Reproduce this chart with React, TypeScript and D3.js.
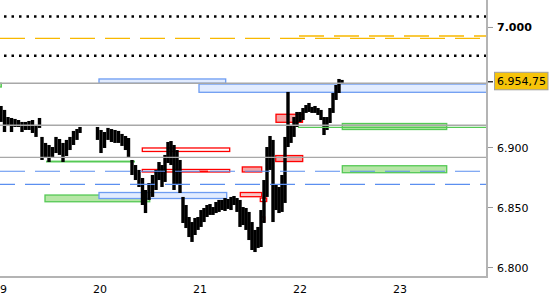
import React from "react";
import * as d3 from "d3";

const W = 550;
const H = 300;
const PLOT_R = 486;
const PLOT_B = 277;

// OHLC bars: time (days), high, low
const barTimes = [
  19.01, 19.045, 19.08, 19.115, 19.15, 19.185, 19.22, 19.255, 19.29, 19.325, 19.36, 19.395,
  19.42, 19.455, 19.49, 19.525, 19.56, 19.595, 19.63, 19.665, 19.7, 19.735, 19.77, 19.8,
  19.975, 20.01, 20.045, 20.08, 20.115, 20.15, 20.185, 20.22, 20.255, 20.285, 20.32, 20.355,
  20.39, 20.425, 20.455, 20.49, 20.525, 20.56, 20.59, 20.62, 20.65, 20.68, 20.71, 20.74,
  20.77, 20.8, 20.83, 20.86, 20.89, 20.92, 20.95, 20.98, 21.01, 21.04, 21.07, 21.1,
  21.13, 21.16, 21.19, 21.22, 21.25, 21.28, 21.31, 21.34, 21.37, 21.4, 21.43, 21.46,
  21.49, 21.52, 21.55, 21.58, 21.61, 21.64, 21.67, 21.7, 21.73, 21.76, 21.79, 21.82,
  21.85, 21.88, 21.91, 21.94, 21.97, 22.0, 22.03, 22.06, 22.09, 22.12, 22.15, 22.18,
  22.21, 22.24, 22.27, 22.3, 22.33, 22.36, 22.39, 22.42,
];
const barHighs = [
  6.9346, 6.9313, 6.9254, 6.9246, 6.9238, 6.9229, 6.9213, 6.9213, 6.9221, 6.9229, 6.9188, 6.9246,
  6.9088, 6.9038, 6.9021, 6.9004, 6.9088, 6.9071, 6.9038, 6.9063, 6.9088, 6.9138, 6.9154, 6.9171,
  6.9171, 6.9146, 6.9129, 6.9163, 6.9154, 6.9146, 6.9138, 6.9113, 6.9096, 6.9079, 6.8896, 6.8854,
  6.8813, 6.8746, 6.8646, 6.8704, 6.8771, 6.8813, 6.8879, 6.8854, 6.8938, 6.9046, 6.9054, 6.9021,
  6.8979, 6.8896, 6.8588, 6.8521, 6.8421, 6.8379, 6.8413, 6.8421, 6.8479, 6.8496, 6.8521, 6.8529,
  6.8504, 6.8546, 6.8563, 6.8563, 6.8579, 6.8571, 6.8588, 6.8596, 6.8579, 6.8563, 6.8504, 6.8496,
  6.8463, 6.8379, 6.8313, 6.8338, 6.8479, 6.8729, 6.9004, 6.9096, 6.9063, 6.8688, 6.8671, 6.8771,
  6.9088, 6.9463, 6.9188, 6.9254, 6.9296, 6.9296, 6.9329, 6.9354, 6.9371, 6.9338, 6.9346, 6.9329,
  6.9313, 6.9254, 6.9254, 6.9329, 6.9454, 6.9521, 6.9571, 6.9563,
];
const barLows = [
  6.9213, 6.9129, 6.9179, 6.9129, 6.9171, 6.9171, 6.9129, 6.9146, 6.9146, 6.9121, 6.9088, 6.9163,
  6.8896, 6.8913, 6.8879, 6.8921, 6.8954, 6.8938, 6.8879, 6.8929, 6.8979, 6.9021, 6.9063, 6.9121,
  6.9063, 6.8954, 6.8996, 6.9063, 6.9046, 6.9038, 6.9038, 6.9013, 6.8979, 6.8913, 6.8771, 6.8729,
  6.8671, 6.8521, 6.8454, 6.8563, 6.8588, 6.8646, 6.8729, 6.8671, 6.8713, 6.8871, 6.8854, 6.8646,
  6.8688, 6.8621, 6.8371, 6.8329, 6.8254, 6.8213, 6.8271, 6.8313, 6.8338, 6.8379, 6.8421, 6.8438,
  6.8438, 6.8454, 6.8463, 6.8479, 6.8471, 6.8488, 6.8479, 6.8521, 6.8463, 6.8338, 6.8354, 6.8313,
  6.8229, 6.8146, 6.8129, 6.8163, 6.8171, 6.8371, 6.8588, 6.8813, 6.8379, 6.8479, 6.8454, 6.8463,
  6.8538, 6.9004, 6.9038, 6.9088, 6.9171, 6.9213, 6.9229, 6.9288, 6.9296, 6.9288, 6.9288, 6.9271,
  6.9229, 6.9104, 6.9146, 6.9204, 6.9288, 6.9396, 6.9454, 6.9538,
];

const lastPrice = 6.95475;
const lastPriceLabel = "6.954,75";

// Zones (supply/demand boxes)
const zoneKinds = [
  "blue", "blue", "green", "blue", "green", "greenBar", "green", "green",
  "redOpen", "redOpen", "redSolid", "red", "red", "red", "redLight", "redOpen", "redOpen",
];
const zoneStarts = [
  19.99, 20.99, 19.45, 19.99, 18.9, 19.46, 22.423, 22.423,
  20.423, 20.423, 20.99, 21.423, 21.757, 21.76, 21.403, 21.603, 21.61,
];
const zoneEnds = [
  21.257, 24.5, 20.497, 21.267, 19.013, 20.35, 23.467, 23.467,
  21.297, 21.297, 21.08, 21.617, 22.027, 22.025, 21.617, 21.667, 21.647,
];
const zoneTops = [
  6.9571, 6.9529, 6.8604, 6.8625, 6.9535, 6.8891, 6.92, 6.8848,
  6.8996, 6.8817, 6.8808, 6.8838, 6.8933, 6.9277, 6.8625, 6.8579, 6.8421,
];
const zoneBottoms = [
  6.9535, 6.946, 6.8548, 6.8575, 6.9504, 6.8875, 6.915, 6.879,
  6.8967, 6.8796, 6.8796, 6.8796, 6.8883, 6.921, 6.859, 6.855, 6.8384,
];

// Horizontal levels
const levelKinds = [
  "dotted", "dotted", "orange", "orange", "gray", "gray", "gray", "green", "blueA", "blueB",
];
const levelValues = [7.0092, 6.9765, 6.991, 6.9929, 6.9535, 6.9185, 6.8918, 6.9168, 6.8802, 6.8693];
const levelStarts = [19, 19, 19, 21.99, 19, 19, 19, 21.98, 19, 19];
const levelEnds = [23.87, 23.87, 23.87, 23.87, 23.87, 23.87, 23.87, 23.87, 23.87, 23.87];

const yTickValues = [7.0, 6.9, 6.85, 6.8];
const yTickLabels = ["7.000", "6.900", "6.850", "6.800"];
const yTickBold = [true, false, false, false];
const xTickDays = [19, 20, 21, 22, 23];
const xTickLabels = ["19", "20", "21", "22", "23"];

const zoneStyle: Record<string, { fill: string; stroke: string }> = {
  blue: { fill: "#e2ecff", stroke: "#6d9cf2" },
  green: { fill: "#b6e6a6", stroke: "#55c955" },
  greenBar: { fill: "#55c955", stroke: "none" },
  redOpen: { fill: "#ffffff", stroke: "#ff0000" },
  redSolid: { fill: "#ff0000", stroke: "none" },
  red: { fill: "#f4a3a3", stroke: "#ff0000" },
  redLight: { fill: "#f8c6c6", stroke: "#ff0000" },
};

const levelStyle: Record<string, any> = {
  dotted: { stroke: "#000", width: 2.5, dash: "2.5 5", offset: 3.5 },
  orange: { stroke: "#f8b800", width: 1.3, dash: "25 10", offset: 0 },
  gray: { stroke: "#a8a8a8", width: 1.4, dash: null, offset: 0 },
  green: { stroke: "#55c955", width: 1.2, dash: null, offset: 0 },
  blueA: { stroke: "#5b8ff0", width: 1.2, dash: "25 10", offset: 0 },
  blueB: { stroke: "#5b8ff0", width: 1.2, dash: "25 10", offset: 10 },
};

export default function App() {
  const x = d3.scaleLinear().domain([19, 23.86]).range([0, PLOT_R]);
  const y = d3.scaleLinear().domain([6.7921, 7.0229]).range([PLOT_B, 0]);
  const font = "'DejaVu Sans', Verdana, sans-serif";
  const ly = y(lastPrice);

  return (
    <svg
      width={W}
      height={H}
      style={{ position: "absolute", left: 0, top: 0, background: "#fff" }}
    >
      <defs>
        <clipPath id="plot">
          <rect x={0} y={0} width={PLOT_R} height={PLOT_B} />
        </clipPath>
      </defs>
      <rect x={0} y={0} width={W} height={H} fill="#fff" />
      <g clipPath="url(#plot)">
        {zoneKinds.map((k, i) => {
          const s = zoneStyle[k];
          const x0 = x(zoneStarts[i]);
          const x1 = x(zoneEnds[i]);
          const y0 = y(zoneTops[i]);
          const y1 = y(zoneBottoms[i]);
          return (
            <rect
              key={"z" + i}
              x={x0}
              y={y0}
              width={x1 - x0}
              height={y1 - y0}
              fill={s.fill}
              stroke={s.stroke}
              strokeWidth={1.3}
            />
          );
        })}
        {barTimes.map((t, i) => {
          const cx = x(t);
          const y0 = y(barHighs[i]);
          const y1 = y(barLows[i]);
          return (
            <rect
              key={"b" + i}
              x={cx - 1.7}
              y={y0}
              width={3.4}
              height={Math.max(1.5, y1 - y0)}
              fill="#000"
            />
          );
        })}
        {levelKinds.map((k, i) => {
          const s = levelStyle[k];
          const yy = y(levelValues[i]);
          return (
            <line
              key={"l" + i}
              x1={x(levelStarts[i])}
              x2={x(levelEnds[i])}
              y1={yy}
              y2={yy}
              stroke={s.stroke}
              strokeWidth={s.width}
              strokeDasharray={s.dash || undefined}
              strokeDashoffset={s.offset}
            />
          );
        })}
      </g>
      {/* axes */}
      <line x1={PLOT_R + 1} x2={PLOT_R + 1} y1={0} y2={PLOT_B + 1} stroke="#b4b4b4" strokeWidth={2} />
      <line x1={0} x2={PLOT_R + 2} y1={PLOT_B} y2={PLOT_B} stroke="#b4b4b4" strokeWidth={2} />
      {yTickValues.map((v, i) => (
        <g key={"yt" + i}>
          <line x1={PLOT_R + 2} x2={PLOT_R + 7} y1={y(v)} y2={y(v)} stroke="#999" strokeWidth={1} />
          <text
            x={497}
            y={y(v) + 4}
            fontFamily={font}
            fontSize={11}
            fontWeight={yTickBold[i] ? "bold" : "normal"}
            fill="#000"
          >
            {yTickLabels[i]}
          </text>
        </g>
      ))}
      {xTickDays.map((d, i) => (
        <text
          key={"xt" + i}
          x={x(d)}
          y={292.5}
          textAnchor="middle"
          fontFamily={font}
          fontSize={11}
          fill="#000"
        >
          {xTickLabels[i]}
        </text>
      ))}
      {/* last price marker */}
      <line x1={PLOT_R + 2} x2={PLOT_R + 7} y1={ly} y2={ly} stroke="#000" strokeWidth={1.2} />
      <rect x={494.5} y={ly - 9.5} width={53.5} height={17.5} fill="#f6c40a" stroke="#a0a0a0" strokeWidth={1} />
      <text x={497} y={ly + 3} fontFamily={font} fontSize={11} fill="#000">
        {lastPriceLabel}
      </text>
    </svg>
  );
}
